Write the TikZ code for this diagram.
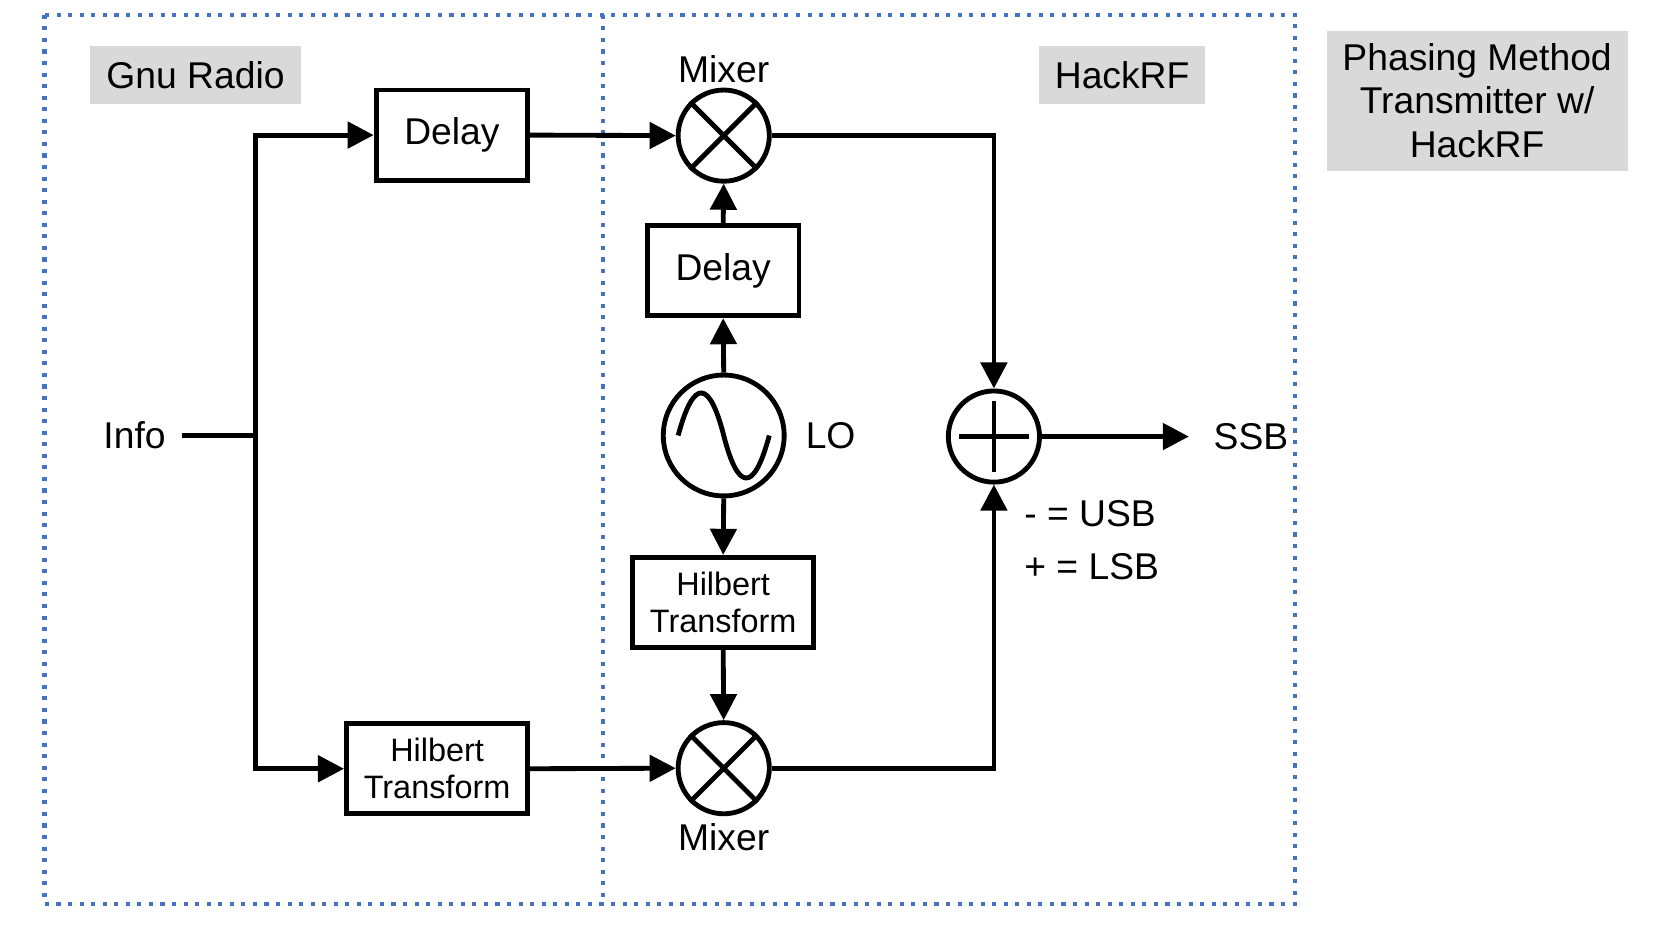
\documentclass[tikz,border=0pt]{standalone}
\usepackage{fontspec}
\setmainfont{Liberation Sans}
\usetikzlibrary{arrows.meta,calc}
\definecolor{dblue}{RGB}{68,114,196}
\definecolor{lgray}{RGB}{217,217,217}
\begin{document}
\begin{tikzpicture}[x=0.01cm,y=-0.01cm,
  box/.style={draw,line width=1.3pt,minimum width=#1,inner sep=0pt,align=center},
  circ/.style={draw,circle,line width=1.3pt,minimum size=0.86cm,inner sep=0pt},
  lab/.style={fill=lgray,inner sep=0pt,align=center},
  w/.style={line width=1.3pt},
  a/.style={line width=1.3pt,-{Triangle[length=7pt,width=7pt]}},
  big/.style={font=\fontsize{10pt}{12pt}\selectfont},
  sm/.style={font=\fontsize{8.7pt}{10pt}\selectfont}]
\useasboundingbox (0,0) rectangle (1560,877);
\draw[dblue,line width=1.1pt,dotted] (42,14) rectangle (1222,853);
\draw[dblue,line width=1.1pt,dotted] (569,14) -- (569,853);
\node[lab,big,minimum width=1.99cm,minimum height=0.55cm] (gnu) at (184.5,70.5) {Gnu Radio};
\node[lab,big,minimum width=1.56cm,minimum height=0.55cm] (hack) at (1059,70.5) {HackRF};
\node[lab,minimum width=2.84cm,minimum height=1.32cm,font=\fontsize{10pt}{11.6pt}\selectfont] (title) at (1394,95) {Phasing Method\\Transmitter w/\\HackRF};
\node[box=1.43cm,minimum height=0.85cm,big] (d1) at (426.5,127.5) {Delay};
\node[box=1.43cm,minimum height=0.85cm,big] (d2) at (682.5,255.5) {Delay};
\node[box=1.71cm,minimum height=0.85cm,sm] (h2) at (682.5,568.5) {Hilbert\\Transform};
\node[box=1.71cm,minimum height=0.85cm,sm] (h1) at (412.5,725.5) {Hilbert\\Transform};
\node[circ] (m1) at (683,128) {};
\draw[w] (m1.45) -- (m1.225) (m1.135) -- (m1.315);
\node[circ] (m2) at (683,725) {};
\draw[w] (m2.45) -- (m2.225) (m2.135) -- (m2.315);
\node[circ] (s) at (938,412) {};
\draw[w] ($(s.north)+(0,12)$) -- ($(s.south)+(0,-12)$);
\draw[w] ($(s.west)+(12,0)$) -- ($(s.east)+(-12,0)$);
\node[circ,minimum size=1.14cm] (lo) at (683,411) {};
\draw[w] (640,411) .. controls (655,355) and (670,360) .. (683,411) .. controls (696,462) and (711,467) .. (726,411);
\node[big,anchor=north] (mx1) at (683,40) {Mixer};
\node[big,anchor=south] (mx2) at (683,815) {Mixer};
\node[big,anchor=west] (lol) at (748,411) {LO};
\node[big] (info) at (127,411) {Info};
\node[big,anchor=west] (ssb) at (1133,412) {SSB};
\node[big,anchor=north west,align=left,inner sep=0pt,font=\fontsize{10pt}{14pt}\selectfont] (note) at (966,472) {- = USB\\+ = LSB};
\coordinate (j) at (241,411);
\draw[w] (172,411) -- (j);
\draw[a] (j) |- (d1.west);
\draw[a] (j) |- (h1.west);
\draw[a] (d1.east) -- (m1.west);
\draw[a] (h1.east) -- (m2.west);
\draw[a] (d2.north) -- (m1.south);
\draw[a] (lo.north) -- (d2.south);
\draw[a] (lo.south) -- (h2.north);
\draw[a] (h2.south) -- (m2.north);
\draw[a] (m1.east) -| (s.north);
\draw[a] (m2.east) -| (s.south);
\coordinate (se) at (1122,412);
\draw[a] (s.east) -- (se);
\end{tikzpicture}
\end{document}
